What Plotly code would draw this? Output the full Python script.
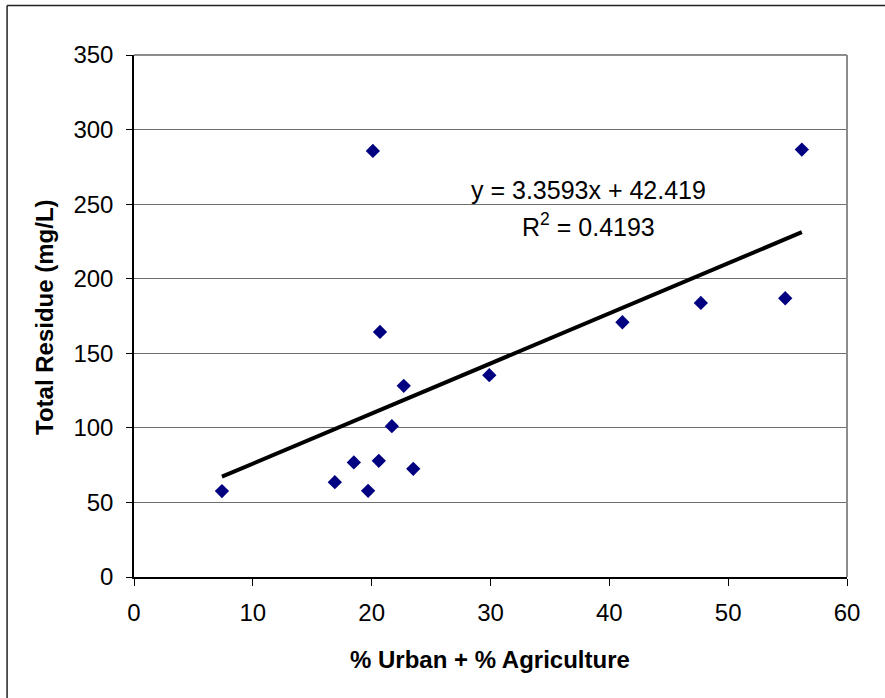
import plotly.graph_objects as go

# Data
pct_urban_ag = [7.4, 16.9, 18.5, 19.7, 20.1, 20.6, 20.7, 21.7, 22.7, 23.5, 29.9, 41.1, 47.7, 54.8, 56.2]
total_residue = [57.6, 63.6, 76.8, 57.8, 285.7, 77.9, 164.3, 101.1, 128.2, 72.5, 135.3, 170.8, 183.8, 186.9, 286.6]

slope = 3.3593
intercept = 42.419
r_squared = 0.4193

x_ticks = [0, 10, 20, 30, 40, 50, 60]
y_ticks = [0, 50, 100, 150, 200, 250, 300, 350]

x_title = "% Urban + % Agriculture"
y_title = "Total Residue (mg/L)"

FONT = "Liberation Sans, Arial, sans-serif"

xmin, xmax = min(pct_urban_ag), max(pct_urban_ag)
trend_x = [xmin, xmax]
trend_y = [slope * v + intercept for v in trend_x]

fig = go.Figure()
fig.add_trace(go.Scatter(
    x=pct_urban_ag, y=total_residue, mode="markers",
    marker=dict(symbol="diamond", size=11, color="#000080",
                line=dict(width=0)),
    showlegend=False, cliponaxis=False))
fig.add_trace(go.Scatter(
    x=trend_x, y=trend_y, mode="lines",
    line=dict(color="black", width=4),
    showlegend=False))

W, H = 885, 698
L, R, T, B = 134, 37.5, 54.7, 120.5
pw, ph = W - L - R, H - T - B

def px(xp):
    return (xp - L) / pw

def py(yp):
    return (H - B - yp) / ph

fig.update_layout(
    width=W, height=H,
    margin=dict(l=L, r=R, t=T, b=B, pad=0),
    paper_bgcolor="white", plot_bgcolor="white",
    font=dict(family=FONT, color="black", size=24),
    xaxis=dict(range=[0, 60], tickvals=x_ticks, showgrid=False,
               zeroline=False, showline=True, linecolor="black", linewidth=1.5,
               ticks="outside", ticklen=7, tickcolor="black", tickwidth=1,
               ticklabelstandoff=6, tickfont=dict(size=24)),
    yaxis=dict(range=[0, 350], tickvals=y_ticks, showgrid=True,
               gridcolor="#6e6e6e", gridwidth=1,
               zeroline=False, showline=True, linecolor="black", linewidth=1.5,
               ticks="outside", ticklen=6, tickcolor="black", tickwidth=1,
               ticklabelstandoff=8, tickfont=dict(size=24)),
    annotations=[
        dict(text="<b>" + x_title + "</b>", xref="paper", yref="paper",
             x=px(490), y=py(660), xanchor="center", yanchor="middle",
             showarrow=False, font=dict(size=24)),
        dict(text="<b>" + y_title + "</b>", xref="paper", yref="paper",
             x=px(45), y=py(317), xanchor="center", yanchor="middle",
             textangle=-90, showarrow=False, font=dict(size=24)),
        dict(text="y = %.4fx + %.3f" % (slope, intercept), xref="paper", yref="paper",
             x=px(589), y=py(190), xanchor="center", yanchor="middle",
             showarrow=False, font=dict(size=25)),
        dict(text="R<sup>2</sup> = %.4f" % r_squared, xref="paper", yref="paper",
             x=px(589), y=py(225), xanchor="center", yanchor="middle",
             showarrow=False, font=dict(size=25)),
    ],
    shapes=[
        # plot area border (top and right, gray)
        dict(type="line", xref="paper", yref="paper", x0=0, x1=1, y0=1, y1=1,
             line=dict(color="#8c8c8c", width=2)),
        dict(type="line", xref="paper", yref="paper", x0=1, x1=1, y0=0, y1=1,
             line=dict(color="#8c8c8c", width=2)),
        # outer chart frame (left and top visible)
        dict(type="line", xref="paper", yref="paper", x0=px(7), x1=px(7),
             y0=py(H + 10), y1=py(5), line=dict(color="#222222", width=1.5)),
        dict(type="line", xref="paper", yref="paper", x0=px(7), x1=px(W + 10),
             y0=py(5), y1=py(5), line=dict(color="#222222", width=1.5)),
    ],
)

fig.write_html("out.html")
